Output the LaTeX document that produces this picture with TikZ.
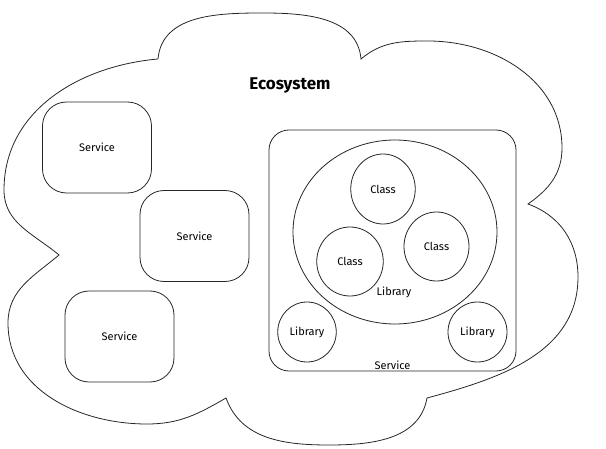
\documentclass[tikz,border=0pt]{standalone}
\usepackage{fontspec}
\setmainfont{Fira Sans}
\usetikzlibrary{positioning,shapes.geometric}

\begin{document}
\begin{tikzpicture}[x=1pt,y=1pt,
    outline/.style={draw=black!85, line width=0.8pt},
    service/.style={outline, rounded corners=24pt, minimum width=109pt, minimum height=91pt, font=\fontsize{11}{13}\selectfont},
    blob/.style={outline, ellipse, inner sep=0pt, font=\fontsize{11}{13}\selectfont},
    tag/.style={font=\fontsize{11}{13}\selectfont, inner sep=1pt}]
  \useasboundingbox (0,0) rectangle (606,448);

  % Cloud
  \draw[outline] (158,389) to[out=85,in=180] (263,435) to[out=0,in=95] (361,389)
    to[out=40,in=180] (428,407) to[out=0,in=90] (562,300) to[out=-90,in=35] (528,244)
    to[out=-20,in=90] (578,171) to[out=-90,in=15] (427,50)
    to[out=-100,in=0] (329,3) to[out=180,in=-70] (226,50)
    to[out=-150,in=0] (147,24) to[out=180,in=-90] (8,125) to[out=90,in=-140] (59,193)
    to[out=140,in=-90] (4,258) to[out=90,in=185] (158,389) -- cycle;
  \node[font=\fontsize{17}{20}\selectfont\bfseries] (eco) at (290,363) {Ecosystem};

  % Services
  \node[service] (svc1) at (97,300.5) {Service};
  \node[service] (svc2) at (194.5,212) {Service};
  \node[service] (svc3) at (119.5,111.5) {Service};
  \node[service, rounded corners=20pt, minimum width=247pt, minimum height=241pt] (bigsvc) at (392.5,197.5) {};
  \node[tag, above=1pt of bigsvc.south] (bigsvclabel) {Service};

  % Libraries
  \node[blob, minimum width=204pt, minimum height=184pt] (biglib) at (395,216) {};
  \node[tag] (biglibla) at (394,156) {Library};
  \node[blob, minimum width=58.5pt, minimum height=60pt] (libl) at (307,116) {Library};
  \node[blob, minimum width=59pt, minimum height=60pt] (libr) at (477.5,116) {Library};

  % Classes
  \node[blob, minimum width=64.5pt, minimum height=70pt] (clstop) at (383,259) {Class};
  \node[blob, minimum width=65pt, minimum height=69pt] (clsright) at (436.5,201.5) {Class};
  \node[blob, minimum width=66.5pt, minimum height=69pt] (clsleft) at (350,186.5) {Class};
\end{tikzpicture}
\end{document}
